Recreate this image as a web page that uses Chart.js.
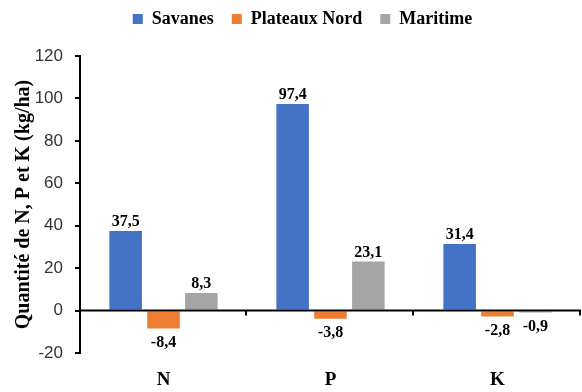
<!DOCTYPE html>
<html>
<head>
<meta charset="utf-8">
<script src="https://cdn.jsdelivr.net/npm/chart.js@4"></script>
<style>
    body { margin: 0; background: #fff; }
    #zone { width: 582px; height: 392px; }
</style>
</head>
<body>
<div id="zone"><canvas id="grafico"></canvas></div>
<script>
const categorias = ['N', 'P', 'K']
const savanes = [37.5, 97.4, 31.4]
const plateauxNord = [-8.4, -3.8, -2.8]
const maritime = [8.3, 23.1, -0.9]
const ticks_y = [-20, 0, 20, 40, 60, 80, 100, 120]

const serif = "'Liberation Serif', 'Times New Roman', serif"

// un peu plus d'espace sous la légende
const espaceLegende = {
    id: 'espaceLegende',
    beforeInit(chart) {
        const fitOriginal = chart.legend.fit
        chart.legend.fit = function () {
            fitOriginal.bind(chart.legend)()
            this.height += 18
        }
    }
}

// valeurs au-dessus / en dessous des barres
const etiquettes = {
    id: 'etiquettes',
    afterDatasetsDraw(chart) {
        const ctx = chart.ctx
        const escalaY = chart.scales.y
        const escalaX = chart.scales.x
        const area = chart.chartArea
        const y0 = escalaY.getPixelForValue(0)

        // ligne du zéro + petits traits entre catégories
        ctx.save()
        ctx.strokeStyle = '#000'
        ctx.lineWidth = 2
        ctx.beginPath()
        ctx.moveTo(area.left, y0)
        ctx.lineTo(area.right, y0)
        const largura = (escalaX.right - escalaX.left) / categorias.length
        for (let i = 1; i <= categorias.length; i++) {
            const xx = Math.round(escalaX.left + largura * i) - 1
            ctx.moveTo(xx, y0)
            ctx.lineTo(xx, y0 + 5)
        }
        ctx.stroke()

        ctx.fillStyle = '#000'
        ctx.font = 'bold 16px ' + serif
        ctx.textAlign = 'center'
        chart.data.datasets.forEach((ds, i) => {
            const meta = chart.getDatasetMeta(i)
            meta.data.forEach((bar, j) => {
                const v = ds.data[j]
                const texto = v.toFixed(1).replace('.', ',')
                if (v >= 0) {
                    ctx.textBaseline = 'bottom'
                    ctx.fillText(texto, bar.x, bar.y - 1)
                } else {
                    ctx.textBaseline = 'top'
                    ctx.fillText(texto, bar.x, Math.max(bar.y, y0 + 2) + 6)
                }
            })
        })
        ctx.restore()
    }
}

const data_barras = {
    labels: categorias,
    datasets: [
        {
            label: 'Savanes',
            data: savanes,
            backgroundColor: '#4472C4',
        },
        {
            label: 'Plateaux Nord',
            data: plateauxNord,
            backgroundColor: '#ED7D31',
        },
        {
            label: 'Maritime',
            data: maritime,
            backgroundColor: '#A5A5A5',
        }
    ]
}

const config_barras = {
    type: 'bar',
    data: data_barras,
    options: {
        responsive: true,
        maintainAspectRatio: false,
        animation: false,
        barPercentage: 0.86,
        categoryPercentage: 0.68,
        layout: {
            padding: { left: 24, right: 1, top: -8, bottom: 0 }
        },
        plugins: {
            legend: {
                position: 'top',
                labels: {
                    color: '#000',
                    boxWidth: 10,
                    boxHeight: 10,
                    padding: 18,
                    font: { size: 18, weight: 'bold', family: serif }
                }
            },
            tooltip: { enabled: false }
        },
        scales: {
            x: {
                grid: { display: false },
                border: { display: false },
                afterFit: (eixo) => { eixo.height = 39 },
                ticks: {
                    color: '#000',
                    padding: 8,
                    font: { size: 19, weight: 'bold', family: serif }
                }
            },
            y: {
                min: -20,
                max: 120,
                afterBuildTicks: (eixo) => { eixo.ticks = ticks_y.map(v => ({ value: v })) },
                afterFit: (eixo) => { eixo.width = 56 },
                border: { color: '#000', width: 2 },
                grid: {
                    drawOnChartArea: false,
                    color: '#000',
                    lineWidth: 2,
                    tickLength: 5
                },
                ticks: {
                    color: '#333',
                    padding: 12,
                    font: { size: 17, family: "'Liberation Sans', Arial, sans-serif" }
                },
                title: {
                    display: true,
                    text: 'Quantité de N, P et K (kg/ha)',
                    color: '#000',
                    padding: { top: -12, bottom: 0 },
                    font: { size: 20, weight: 'bold', family: serif }
                }
            }
        }
    },
    plugins: [espaceLegende, etiquettes]
}

const grafico = new Chart(document.querySelector('#grafico'), config_barras)
</script>
</body>
</html>
